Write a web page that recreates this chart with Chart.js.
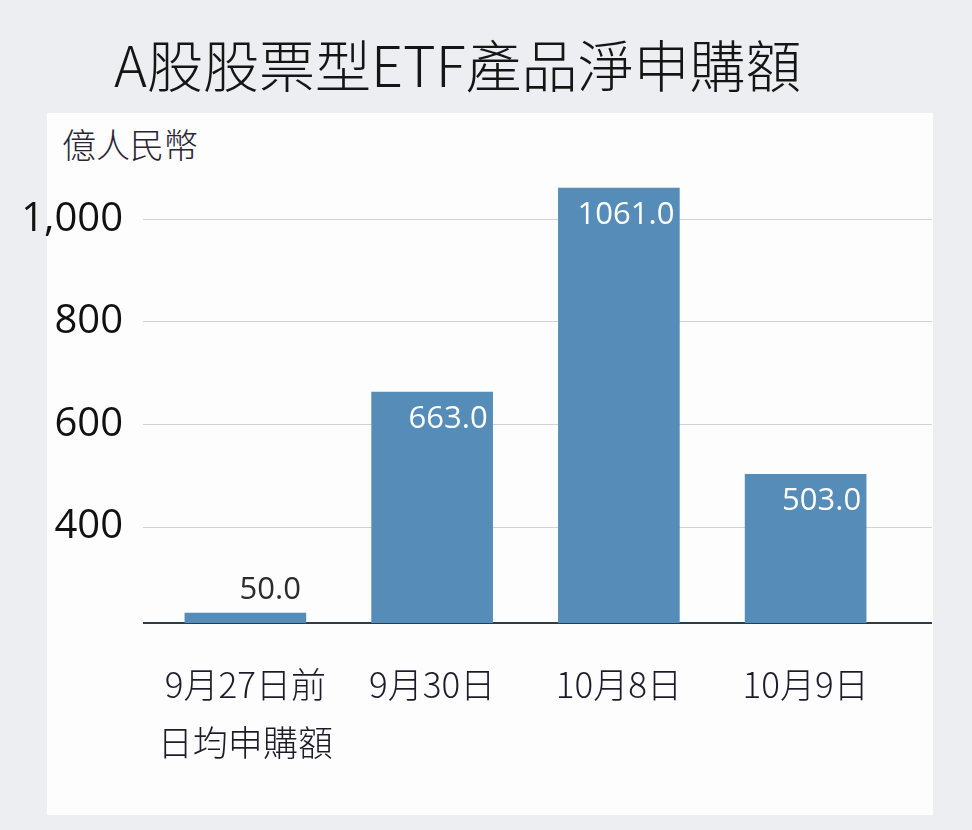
<!DOCTYPE html>
<html lang="zh-Hant">
<head>
<meta charset="utf-8">
<title>A股股票型ETF產品淨申購額</title>
<script src="https://cdn.jsdelivr.net/npm/chart.js@4.4.1/dist/chart.umd.min.js"></script>
<style>
  body { margin: 0; background: #eceef1; }
  #wrap { position: relative; width: 972px; height: 830px; overflow: hidden; }
  #panel { position: absolute; left: 47px; top: 113px; width: 886px; height: 702px; background: #fdfdfe; }
  #title { position: absolute; left: 114px; top: 35px; font: 300 56px "Noto Sans CJK TC", sans-serif; color: #151515; line-height: 1; white-space: nowrap; }
  #unit { position: absolute; left: 62px; top: 127px; font: 300 34px "Noto Sans CJK TC", sans-serif; color: #2a2433; line-height: 1; }
  canvas { position: absolute; left: 0; top: 0; }
</style>
</head>
<body>
<div id="wrap">
  <div id="panel"></div>
  <div id="title">A股股票型ETF產品淨申購額</div>
  <div id="unit">億人民幣</div>
  <canvas id="chart" width="972" height="830"></canvas>
</div>
<script>
// datos
const categories = [['9月27日前', '日均申購額'], '9月30日', '10月8日', '10月9日'];
const netSubscription = [50.0, 663.0, 1061.0, 503.0];
const yTicks = [400, 600, 800, 1000];

const gridColor = '#cfd3d9';
const axisColor = '#343a42';

// rótulos dos valores: dentro da barra (branco) ou acima dela se a barra é baixa
const barLabels = {
    id: 'barLabels',
    afterDatasetsDraw(chart) {
        const ctx = chart.ctx;
        const bottom = chart.chartArea.bottom;
        ctx.save();
        ctx.font = '31px "Open Sans", sans-serif';
        ctx.textAlign = 'right';
        ctx.textBaseline = 'middle';
        chart.getDatasetMeta(0).data.forEach((bar, i) => {
            const text = netSubscription[i].toFixed(1);
            const right = bar.x + bar.width / 2 - 5;
            const height = Math.min(bar.base, bottom) - bar.y;
            if (height > 45) {
                ctx.fillStyle = '#ffffff';
                ctx.fillText(text, right, bar.y + 27);
            } else {
                ctx.fillStyle = '#2b2b2b';
                ctx.fillText(text, right, bar.y - 23);
            }
        });
        ctx.restore();
    }
};

// as linhas de grade do original passam um pouco das barras, até a borda do painel
const extendRules = {
    id: 'extendRules',
    beforeDatasetsDraw(chart) {
        const { ctx, chartArea, scales } = chart;
        const x0 = chartArea.left - 9;
        const x1 = chartArea.right + 33;
        ctx.save();
        ctx.strokeStyle = gridColor;
        ctx.lineWidth = 1;
        scales.y.ticks.forEach(t => {
            const py = Math.round(scales.y.getPixelForValue(t.value) - 0.5) + 0.5;
            ctx.beginPath();
            ctx.moveTo(x0, py);
            ctx.lineTo(x1, py);
            ctx.stroke();
        });
        ctx.strokeStyle = axisColor;
        ctx.lineWidth = 2;
        ctx.beginPath();
        ctx.moveTo(x0, chartArea.bottom);
        ctx.lineTo(x1, chartArea.bottom);
        ctx.stroke();
        ctx.restore();
    }
};

new Chart(document.getElementById('chart'), {
    type: 'bar',
    data: {
        labels: categories,
        datasets: [{
            label: '淨申購額',
            data: netSubscription,
            backgroundColor: '#568db8',
            barThickness: 121,
            // o eixo do original é cortado abaixo de 400; a primeira barra fica
            // abaixo do piso e aparece só como uma faixa fina sobre a linha base
            base: 40,
            minBarLength: 10,
            clip: 0
        }]
    },
    options: {
        responsive: false,
        animation: false,
        layout: { padding: { left: 0, right: 73, top: 168, bottom: 0 } },
        plugins: {
            legend: { display: false },
            tooltip: { enabled: false }
        },
        scales: {
            x: {
                afterFit: scale => { scale.height = 207; },
                grid: { display: false, drawTicks: false },
                border: { display: true, color: axisColor, width: 2 },
                ticks: {
                    padding: 33,
                    color: '#1e1b28',
                    maxRotation: 0,
                    autoSkip: false,
                    font: { family: '"Noto Sans CJK TC", sans-serif', size: 35, weight: 300, lineHeight: 1.65 }
                }
            },
            y: {
                min: 213,
                max: 1100,
                afterBuildTicks: scale => { scale.ticks = yTicks.map(v => ({ value: v })); },
                afterFit: scale => { scale.width = 152; },
                grid: { color: gridColor, lineWidth: 1, drawTicks: false },
                border: { display: false },
                ticks: {
                    padding: 29,
                    color: '#111111',
                    font: { family: '"Open Sans", sans-serif', size: 40 },
                    callback: v => v.toLocaleString('en-US')
                }
            }
        }
    },
    plugins: [extendRules, barLabels]
});
</script>
</body>
</html>
